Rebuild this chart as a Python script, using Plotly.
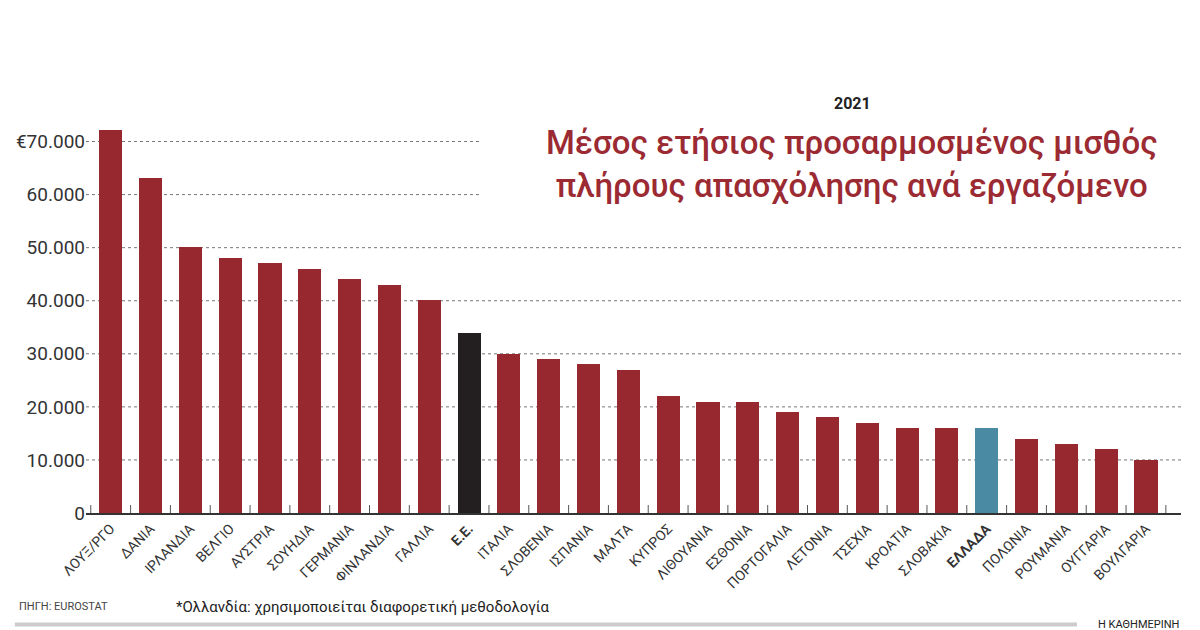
import plotly.graph_objects as go

countries = ["ΛΟΥΞ/ΡΓΟ","ΔΑΝΙΑ","ΙΡΛΑΝΔΙΑ","ΒΕΛΓΙΟ","ΑΥΣΤΡΙΑ","ΣΟΥΗΔΙΑ","ΓΕΡΜΑΝΙΑ","ΦΙΝΛΑΝΔΙΑ","ΓΑΛΛΙΑ","Ε.Ε.",
             "ΙΤΑΛΙΑ","ΣΛΟΒΕΝΙΑ","ΙΣΠΑΝΙΑ","ΜΑΛΤΑ","ΚΥΠΡΟΣ","ΛΙΘΟΥΑΝΙΑ","ΕΣΘΟΝΙΑ","ΠΟΡΤΟΓΑΛΙΑ","ΛΕΤΟΝΙΑ","ΤΣΕΧΙΑ",
             "ΚΡΟΑΤΙΑ","ΣΛΟΒΑΚΙΑ","ΕΛΛΑΔΑ","ΠΟΛΩΝΙΑ","ΡΟΥΜΑΝΙΑ","ΟΥΓΓΑΡΙΑ","ΒΟΥΛΓΑΡΙΑ"]
values = [72200,63100,50100,48100,47100,46000,44100,43000,40100,34000,
          30000,29000,28000,27000,22000,21000,21000,19000,18000,17000,
          16000,16000,16000,14000,13000,12000,10000]
yticks = [0,10000,20000,30000,40000,50000,60000,70000]
ytick_text = ["0","10.000","20.000","30.000","40.000","50.000","60.000","€70.000"]

RED, EU, GR = "#97282f", "#231f20", "#4a8aa3"
colors = [EU if c == "Ε.Ε." else GR if c == "ΕΛΛΑΔΑ" else RED for c in countries]
ticktext = [f"<b>{c}</b>" if c in ("Ε.Ε.", "ΕΛΛΑΔΑ") else c for c in countries]
FONT = "Roboto, sans-serif"

fig = go.Figure(go.Bar(x=list(range(len(countries))), y=values, marker_color=colors,
                       marker_line_width=0, width=0.58))

shapes = []
for v in yticks[1:]:
    x1 = 0.36 if v >= 60000 else 1.0
    shapes.append(dict(type="line", xref="paper", yref="y", x0=0, x1=x1, y0=v, y1=v,
                       line=dict(color="#777", width=1, dash="dot"), layer="below"))
for i in range(len(countries) + 1):
    shapes.append(dict(type="line", xref="x", yref="paper", x0=i - 0.5, x1=i - 0.5, y0=0, y1=0.02,
                       line=dict(color="#555", width=1)))
shapes.append(dict(type="line", xref="paper", yref="paper", x0=-0.065, x1=0.905, y0=-0.28, y1=-0.28,
                   line=dict(color="#ccc", width=4)))

fig.update_layout(
    width=1200, height=630, margin=dict(l=78, r=27, t=107, b=125, autoexpand=False),
    paper_bgcolor="white", plot_bgcolor="white", showlegend=False,
    font=dict(family=FONT, color="#333"), bargap=0,
    xaxis=dict(range=[-0.62, 26.88], tickmode="array", tickvals=list(range(len(countries))),
               ticktext=ticktext, tickangle=-45, tickfont=dict(size=14, color="#333"), automargin=False,
               showline=True, linecolor="#333", linewidth=2, showgrid=False, ticks="", fixedrange=True),
    yaxis=dict(range=[0, 75000], tickmode="array", tickvals=yticks, ticktext=ytick_text, automargin=False,
               tickfont=dict(size=19, color="#333"), showgrid=False, zeroline=False, ticks=""),
    shapes=shapes,
    annotations=[
        dict(text="<b>2021</b>", xref="paper", yref="paper", x=0.70, y=1.03, showarrow=False,
             font=dict(size=16, color="#222"), xanchor="center", yanchor="middle"),
        dict(text="Μέσος ετήσιος προσαρμοσμένος μισθός<br>πλήρους απασχόλησης ανά εργαζόμενο",
             xref="paper", yref="paper", x=0.98, y=0.985, showarrow=False, align="center",
             xanchor="right", yanchor="top", font=dict(size=33, color="#9b2a33", weight=500)),
        dict(text="ΠΗΓΗ: EUROSTAT", xref="paper", yref="paper", x=-0.063, y=-0.235,
             xanchor="left", yanchor="middle", showarrow=False, font=dict(size=11, color="#444")),
        dict(text="*Ολλανδία: χρησιμοποιείται διαφορετική μεθοδολογία", xref="paper", yref="paper",
             x=0.08, y=-0.235, xanchor="left", yanchor="middle", showarrow=False,
             font=dict(size=15, color="#222")),
        dict(text="Η ΚΑΘΗΜΕΡΙΝΗ", xref="paper", yref="paper", x=1.0, y=-0.28,
             xanchor="right", yanchor="middle", showarrow=False, font=dict(size=11, color="#222")),
    ],
)
fig.write_html("out.html")
